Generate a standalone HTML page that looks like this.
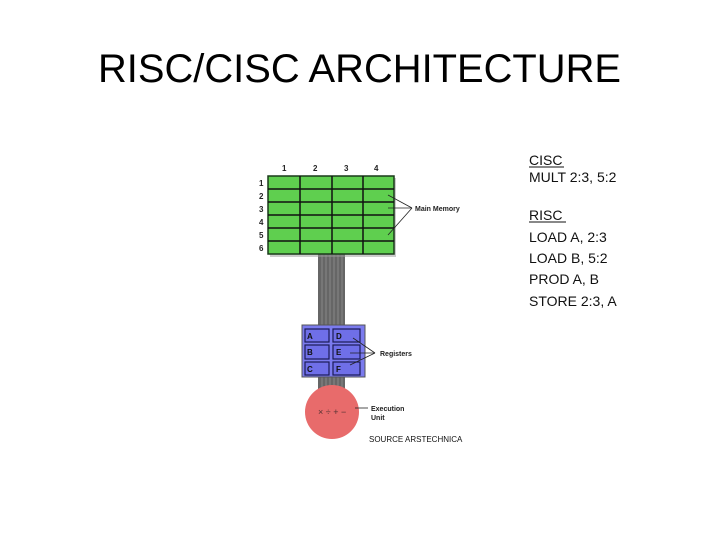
<!DOCTYPE html>
<html><head><style>html,body{margin:0;padding:0;background:#fff;}svg{display:block}</style></head>
<body>
<svg width="720" height="540" xmlns="http://www.w3.org/2000/svg" font-family="Liberation Sans, sans-serif">
<rect width="720" height="540" fill="#fff"/>
<text x="98" y="82" font-size="40" textLength="523" lengthAdjust="spacingAndGlyphs" fill="#000">RISC/CISC ARCHITECTURE</text>

<!-- bus -->
<rect x="318" y="254" width="27" height="140" fill="#666"/>
<g stroke="#888" stroke-width="1">
<line x1="322" y1="254" x2="322" y2="394"/><line x1="326" y1="254" x2="326" y2="394"/><line x1="330" y1="254" x2="330" y2="394"/><line x1="334" y1="254" x2="334" y2="394"/><line x1="338" y1="254" x2="338" y2="394"/><line x1="342" y1="254" x2="342" y2="394"/>
</g>

<!-- memory grid -->
<rect x="270" y="178" width="126" height="79" fill="#9a9a9a" opacity="0.5"/>
<rect x="268" y="176" width="126" height="78" fill="#5fcf4f" stroke="#1a3a1a" stroke-width="1.5"/>
<g stroke="#111" stroke-width="1.5">
<line x1="300" y1="176" x2="300" y2="254"/><line x1="332" y1="176" x2="332" y2="254"/><line x1="363" y1="176" x2="363" y2="254"/>
<line x1="268" y1="189" x2="394" y2="189"/><line x1="268" y1="202" x2="394" y2="202"/><line x1="268" y1="215" x2="394" y2="215"/><line x1="268" y1="228" x2="394" y2="228"/><line x1="268" y1="241" x2="394" y2="241"/>
</g>
<g font-size="8" font-weight="bold" fill="#222">
<text x="282" y="171">1</text><text x="313" y="171">2</text><text x="344" y="171">3</text><text x="374" y="171">4</text>
<text x="259" y="186">1</text><text x="259" y="199">2</text><text x="259" y="212">3</text><text x="259" y="225">4</text><text x="259" y="238">5</text><text x="259" y="251">6</text>
</g>
<g stroke="#222" stroke-width="0.8">
<line x1="388" y1="195" x2="412" y2="208"/><line x1="388" y1="208" x2="412" y2="208"/><line x1="388" y1="235" x2="412" y2="208"/>
</g>
<text x="415" y="211" font-size="7" font-weight="bold" fill="#222">Main Memory</text>

<!-- registers -->
<rect x="302" y="325" width="63" height="52" fill="#7b7bee" stroke="#555" stroke-width="1"/>
<g fill="#6f6fe8" stroke="#1a1a55" stroke-width="1.2">
<rect x="305" y="329" width="24" height="13"/><rect x="333" y="329" width="27" height="13"/>
<rect x="305" y="345" width="24" height="14"/><rect x="333" y="345" width="27" height="14"/>
<rect x="305" y="362" width="24" height="13"/><rect x="333" y="362" width="27" height="13"/>
</g>
<g font-size="8" font-weight="bold" fill="#111">
<text x="307" y="339">A</text><text x="336" y="339">D</text>
<text x="307" y="355">B</text><text x="336" y="355">E</text>
<text x="307" y="372">C</text><text x="336" y="372">F</text>
</g>
<g stroke="#222" stroke-width="0.8">
<line x1="353" y1="338" x2="375" y2="353"/><line x1="350" y1="353" x2="375" y2="353"/><line x1="350" y1="365" x2="375" y2="353"/>
</g>
<text x="380" y="356" font-size="7" font-weight="bold" fill="#222">Registers</text>

<!-- execution unit -->
<circle cx="332" cy="412" r="27" fill="#e86b6b"/>
<text x="318" y="415" font-size="9" fill="#533">× ÷ + −</text>
<line x1="355" y1="408" x2="368" y2="408" stroke="#222" stroke-width="0.8"/>
<text x="371" y="411" font-size="7" font-weight="bold" fill="#222">Execution</text>
<text x="371" y="420" font-size="7" font-weight="bold" fill="#222">Unit</text>
<text x="369" y="442" font-size="8" fill="#111">SOURCE ARSTECHNICA</text>

<!-- right text -->
<g font-size="14" fill="#111">
<text x="529" y="165">CISC</text>
<line x1="529" y1="167" x2="564" y2="167" stroke="#111" stroke-width="1"/>
<text x="529" y="182">MULT 2:3, 5:2</text>
<text x="529" y="220">RISC</text>
<line x1="529" y1="222" x2="566" y2="222" stroke="#111" stroke-width="1"/>
<text x="529" y="242">LOAD A, 2:3</text>
<text x="529" y="263">LOAD B, 5:2</text>
<text x="529" y="284">PROD A, B</text>
<text x="529" y="306">STORE 2:3, A</text>
</g>
</svg>
</body></html>
